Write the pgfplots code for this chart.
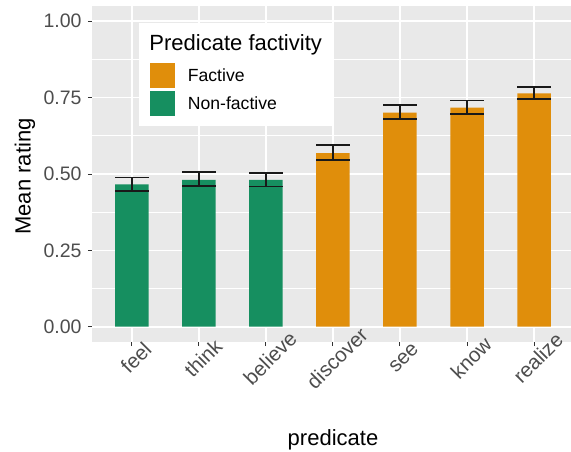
\documentclass[border=0pt]{standalone}
\usepackage{fontspec}
\setmainfont{Liberation Sans}
\usepackage{pgfplots}
\pgfplotsset{compat=1.18}
\usepackage{pgfplotstable}
\definecolor{panel}{RGB}{233,233,233}
\definecolor{fact}{RGB}{224,142,11}
\definecolor{nonfact}{RGB}{22,143,96}
\definecolor{tickgrey}{RGB}{77,77,77}
\definecolor{tickmark}{RGB}{51,51,51}
\definecolor{errc}{RGB}{25,25,25}

\pgfplotstableread{
x y ep em
1 0.466 0.022 0.021
2 0.481 0.025 0.021
3 0.481 0.022 0.022
}\nonfactive
\pgfplotstableread{
x y ep em
4 0.568 0.026 0.023
5 0.701 0.025 0.021
6 0.717 0.024 0.021
7 0.764 0.021 0.019
}\factive

\begin{document}
\begin{tikzpicture}
\useasboundingbox (-91.8pt,-109pt) rectangle (479.2pt,342pt);
\begin{axis}[
  at={(0,0)}, anchor=south west,
  scale only axis, width=482.4pt, height=336pt,
  xmin=0.4, xmax=7.6, ymin=-0.05, ymax=1.05,
  axis background/.style={fill=panel},
  axis line style={draw=none},
  xtick={1,2,3,4,5,6,7},
  xticklabels={feel,think,believe,discover,see,know,realize},
  ytick={0,0.25,0.5,0.75,1},
  yticklabels={0.00,0.25,0.50,0.75,1.00},
  minor ytick={0.125,0.375,0.625,0.875},
  xtick pos=lower, ytick pos=lower,
  grid=both,
  major grid style={white, line width=1.6pt},
  minor grid style={white, line width=0.8pt},
  tick align=outside,
  major tick length=4pt,
  minor tick length=0pt,
  tick style={tickmark, line width=1pt},
  /pgf/number format/assume math mode=true,
  ticklabel style={font=\fontsize{19.5}{19.5}\selectfont, text=tickgrey},
  yticklabel style={anchor=east, inner sep=0pt, xshift=-6pt},
  xticklabel style={font=\fontsize{20.5}{20.5}\selectfont, anchor=center, inner sep=0pt, xshift=4pt, yshift=-12pt, rotate=45},
]
\addplot[ybar, bar width=0.5, bar shift=0pt, fill=nonfact, draw=none,
  error bars/.cd, y dir=both, y explicit,
  error bar style={errc, line width=1.6pt},
  error mark options={errc, line width=1.6pt, rotate=90, mark size=16.75pt}]
  table[x=x, y=y, y error plus=ep, y error minus=em] {\nonfactive};
\addplot[ybar, bar width=0.5, bar shift=0pt, fill=fact, draw=none,
  error bars/.cd, y dir=both, y explicit,
  error bar style={errc, line width=1.6pt},
  error mark options={errc, line width=1.6pt, rotate=90, mark size=16.75pt}]
  table[x=x, y=y, y error plus=ep, y error minus=em] {\factive};
\end{axis}
% axis titles
\node[font=\fontsize{22}{22}\selectfont] at (241.2pt,-98pt) {predicate};
\node[rotate=90, font=\fontsize{22}{22}\selectfont] at (-66.8pt,165.5pt) {Mean rating};
% legend
\fill[white] (47.2pt,216pt) rectangle (241.2pt,319pt);
\node[anchor=base west, inner sep=0pt, font=\fontsize{22}{22}\selectfont] at (57.5pt,292pt) {Predicate factivity};
\fill[fact] (58.2pt,254pt) rectangle (83.5pt,279.3pt);
\fill[nonfact] (58.2pt,226.3pt) rectangle (83.5pt,251.3pt);
\node[anchor=west, inner sep=0pt, font=\fontsize{17.6}{17.6}\selectfont] at (95.9pt,266.7pt) {Factive};
\node[anchor=west, inner sep=0pt, font=\fontsize{17.6}{17.6}\selectfont] at (95.9pt,238.8pt) {Non-factive};
\end{tikzpicture}
\end{document}
